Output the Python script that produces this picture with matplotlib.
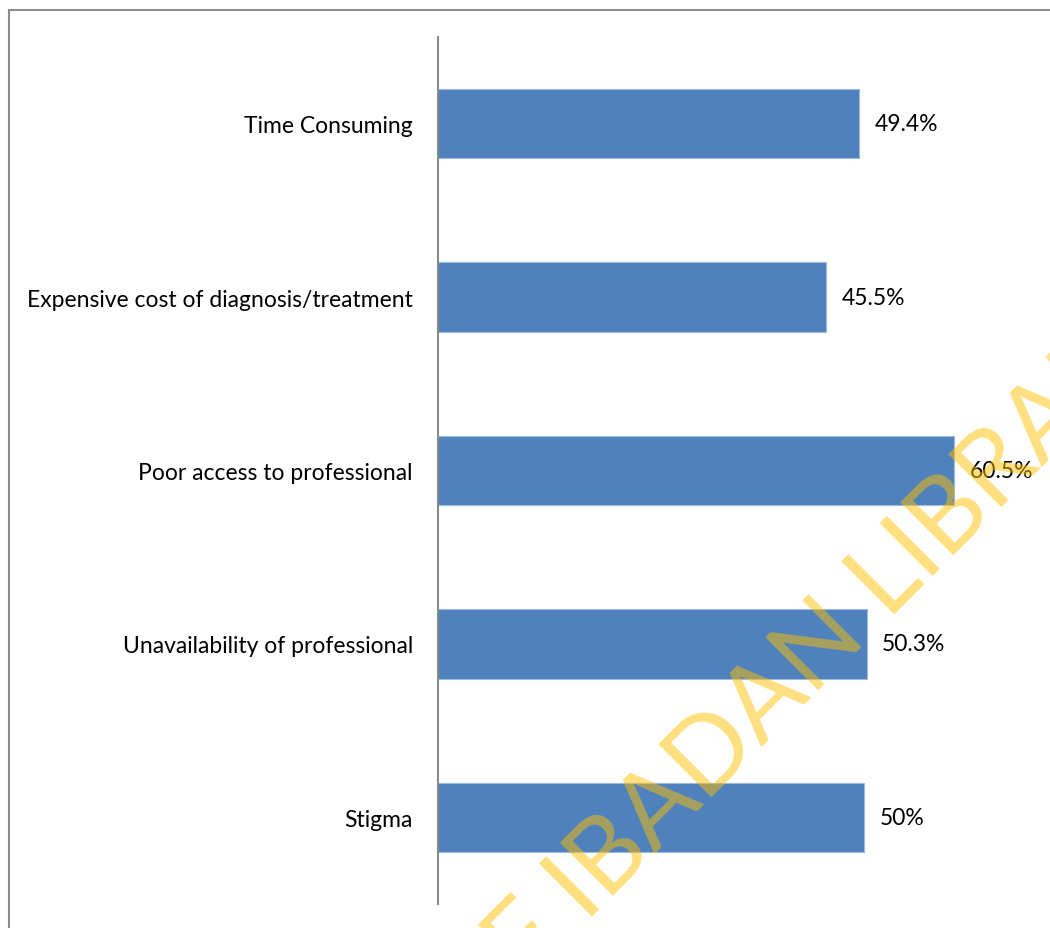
import matplotlib.pyplot as plt
from matplotlib.patches import Rectangle
from matplotlib.textpath import TextPath
from matplotlib.font_manager import FontProperties
import numpy as np

plt.rcParams["font.family"] = ["Lato", "DejaVu Sans"]

# 回答データ（下から上の順）
categories = ["Stigma", "Unavailability of professional", "Poor access to professional",
              "Expensive cost of diagnosis/treatment", "Time Consuming"]
values = [50, 50.3, 60.5, 45.5, 49.4]
value_labels = ["50%", "50.3%", "60.5%", "45.5%", "49.4%"]

W, H = 1050, 929
fig = plt.figure(figsize=(W / 100, H / 100), dpi=100)

# プロット領域（ピクセル指定で配置）
left, right, top, bottom = 438, 1035, 38, 905
ax = fig.add_axes([left / W, 1 - bottom / H, (right - left) / W, (bottom - top) / H])

bars = ax.barh(range(len(categories)), values, height=0.4,
               color="#4F81BD", edgecolor="#9DB9DD", linewidth=0.8)
ax.bar_label(bars, labels=value_labels, padding=11, fontsize=16.5, color="black")

ax.set_xlim(0, 70)
ax.set_ylim(-0.5, len(categories) - 0.5)
ax.set_yticks(range(len(categories)))
ax.set_yticklabels(categories, fontsize=16.5, color="black")
ax.tick_params(axis="y", length=0, pad=18)
ax.set_xticks([])

for s in ["top", "right", "bottom"]:
    ax.spines[s].set_visible(False)
ax.spines["left"].set_color("#868686")
ax.spines["left"].set_linewidth(1.4)

# 外枠
fig.patches.append(Rectangle((9 / W, -0.1), 2, 1.1 - 11 / H, transform=fig.transFigure,
                             fill=False, edgecolor="#8C8C8C", linewidth=1.5))

# 透かし文字（45度）
# "IBADAN" の I の下端と "LIBRARY" の L の角を基準に大きさと位置を決める
wm = "UNIVERSITY OF IBADAN LIBRARY"
fp = FontProperties(family="Lato")


def ext(t):
    return TextPath((0, 0), t, size=100, prop=fp).get_extents()


i_c = ext("UNIVERSITY OF I").xmax - ext("I").width / 2
l_left = ext("UNIVERSITY OF IBADAN L").xmax - ext("L").width
p_i = np.array([596, H - 913])     # I の下端（ピクセル, 下から）
p_l = np.array([895, H - 615])     # L の角
scale = np.linalg.norm(p_l - p_i) / (l_left - i_c)
d = np.array([np.cos(np.pi / 4), np.sin(np.pi / 4)])
start = p_i - i_c * scale * d

fig.text(start[0] / W, start[1] / H, wm, rotation=45, rotation_mode="anchor",
         ha="left", va="baseline", fontproperties=fp, fontsize=100 * scale * 0.72,
         color="#FFC000", alpha=0.5, zorder=10)

fig.savefig("out.png", dpi=100)
